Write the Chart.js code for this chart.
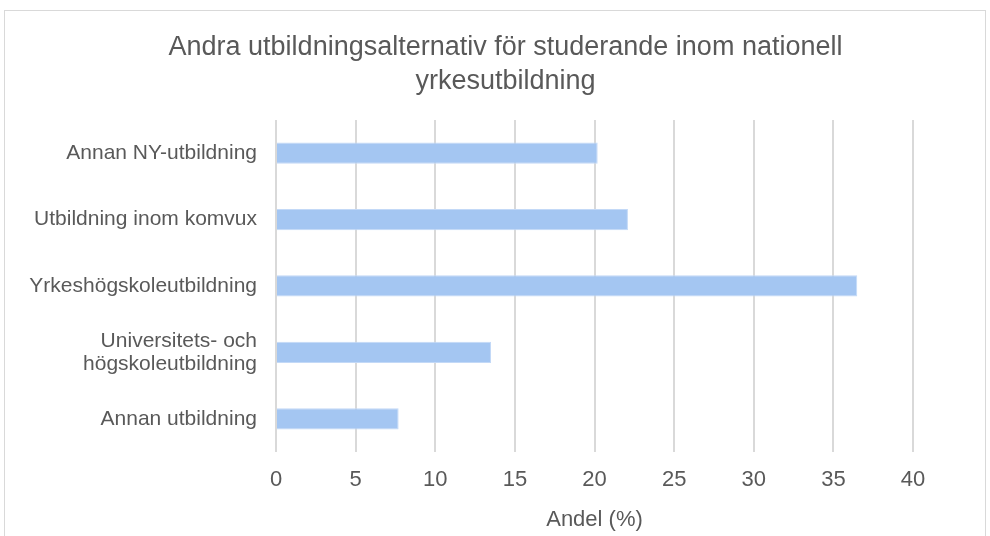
<!DOCTYPE html>
<html>
<head>
<meta charset="utf-8">
<script src="https://cdn.jsdelivr.net/npm/chart.js@4"></script>
<style>
  body { margin: 0; background: #fff; }
  #frame { position: absolute; left: 4px; top: 10px; width: 980px; height: 540px; border: 1px solid #d9d9d9; }
  #holder { position: absolute; left: 0; top: 0; width: 990px; height: 536px; }
</style>
</head>
<body>
<div id="frame"></div>
<div id="holder"><canvas id="myChart"></canvas></div>
<script>
  const categories = [
    'Annan NY-utbildning',
    'Utbildning inom komvux',
    'Yrkeshögskoleutbildning',
    ['Universitets- och', 'högskoleutbildning'],
    'Annan utbildning'
  ];
  const values = [20.2, 22.1, 36.5, 13.5, 7.7];

  const titleLines = ['Andra utbildningsalternativ för studerande inom nationell', 'yrkesutbildning'];
  const xTitle = 'Andel (%)';

  const font = '"Liberation Sans", Arial, sans-serif';
  const grey = '#595959';

  const data = {
    labels: categories,
    datasets: [{
      data: values,
      backgroundColor: '#a4c6f2',
      borderColor: '#c3d9f7',
      borderWidth: 1,
      barPercentage: 0.32,
      categoryPercentage: 1
    }]
  };

  const config = {
    type: 'bar',
    data: data,
    options: {
      indexAxis: 'y',
      responsive: false,
      animation: false,
      layout: { padding: { top: 31, right: 0, bottom: 3, left: 21 } },
      plugins: {
        legend: { display: false },
        tooltip: { enabled: false },
        title: {
          display: true,
          text: titleLines,
          color: grey,
          font: { family: font, size: 27, weight: 'normal', lineHeight: 1.24 },
          padding: { top: 0, bottom: 22 }
        }
      },
      scales: {
        x: {
          min: 0,
          max: 40,
          ticks: { stepSize: 5, color: grey, font: { family: font, size: 22 }, padding: 15 },
          grid: { color: '#d9d9d9', lineWidth: 2, drawTicks: false },
          border: { display: false },
          title: {
            display: true,
            text: xTitle,
            color: grey,
            font: { family: font, size: 22 },
            padding: { top: 13, bottom: 0 }
          },
          afterFit: function (scale) { scale.height = 81; }
        },
        y: {
          ticks: { color: grey, font: { family: font, size: 21, lineHeight: 1.1 }, padding: 19 },
          grid: { display: false, drawTicks: false },
          border: { display: false },
          afterFit: function (scale) { scale.width = 276 - 21; }
        },
        pad: {
          type: 'linear',
          axis: 'y',
          position: 'right',
          ticks: { display: false },
          grid: { display: false, drawTicks: false },
          border: { display: false },
          afterFit: function (scale) { scale.width = 77; }
        }
      }
    }
  };

  const canvas = document.getElementById('myChart');
  canvas.width = 990;
  canvas.height = 536;
  const myChart = new Chart(canvas, config);
</script>
</body>
</html>
